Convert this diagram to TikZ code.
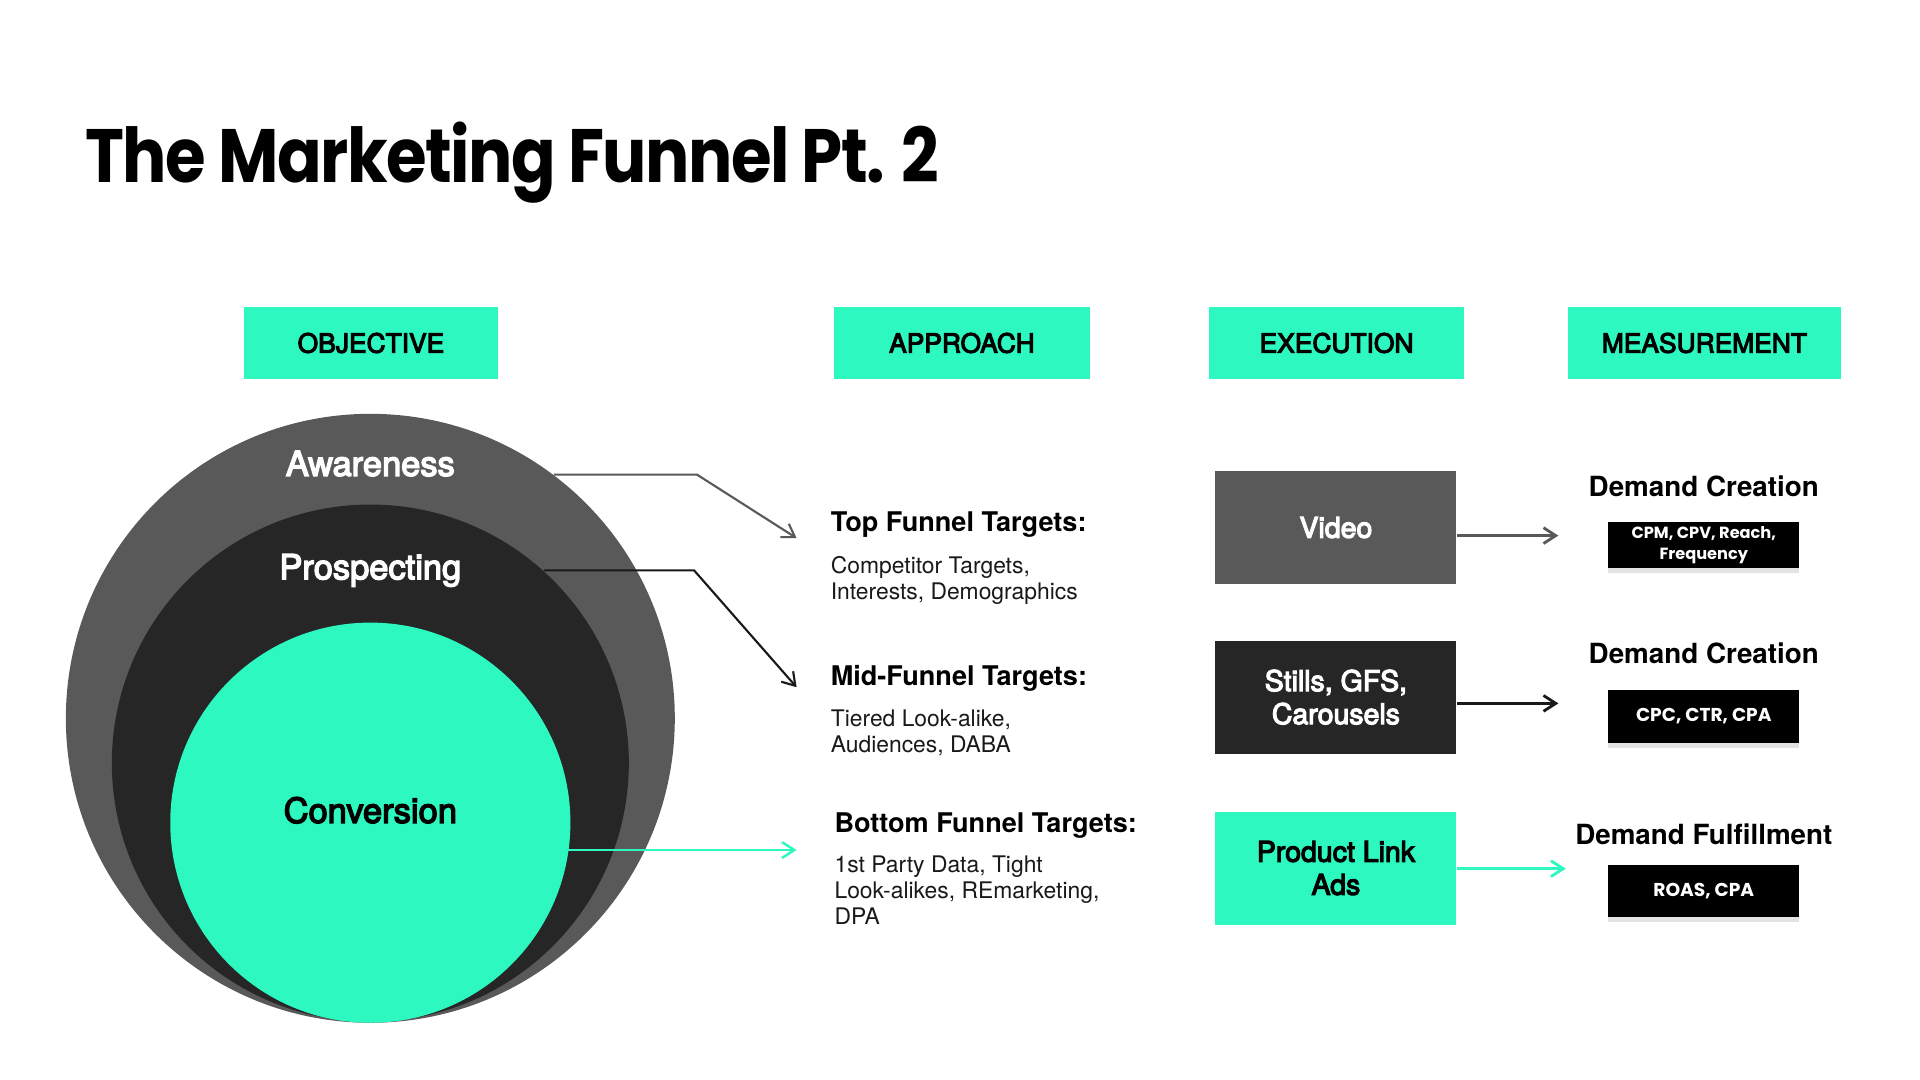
\documentclass[tikz,border=0pt]{standalone}
\usepackage{fontspec}
\setmainfont{TeX Gyre Heros}
\newfontfamily\titlefont{Poppins}[FakeStretch=0.87, LetterSpace=-2]
\newfontfamily\popfont{Poppins}
\newfontfamily\medfont{TeX Gyre Heros}[FakeBold=4]
\usetikzlibrary{positioning}
\usetikzlibrary{arrows.meta}
\usetikzlibrary{shadows}
\definecolor{mint}{HTML}{2DF8C0}
\definecolor{ringgray}{HTML}{595959}
\definecolor{ringdark}{HTML}{262626}
\newcommand\dpx{0.012427cm}
\tikzset{
    headbox/.style = {rectangle, fill=mint, minimum width=205*\dpx, minimum height=58*\dpx, font=\medfont\fontsize{7.5}{9}\selectfont},
    ring/.style = {circle, inner sep=0pt},
    ringtxt/.style = {font=\medfont\fontsize{9.8}{11}\selectfont},
    execbox/.style = {rectangle, minimum width=194*\dpx, minimum height=91*\dpx, align=center, font=\medfont\fontsize{8.1}{9.4}\selectfont},
    metbox/.style = {rectangle, fill=black, text=white, minimum width=154*\dpx, inner sep=0pt, align=center, font=\popfont\bfseries\fontsize{4.6}{6}\selectfont, drop shadow={shadow xshift=0pt, shadow yshift=-1.4pt, opacity=0.22}},
    metlabel/.style = {font=\bfseries\fontsize{7.9}{9.5}\selectfont},
    apptitle/.style = {anchor=base west, inner sep=0pt, font=\bfseries\fontsize{7.7}{9}\selectfont},
    appbody/.style = {anchor=north west, inner sep=0pt, align=left, text=black!90, font=\fontsize{6.5}{7.4}\selectfont},
}
\begin{document}
\begin{tikzpicture}[x=\dpx, y=-\dpx]
\tikzset{
    linkgray/.style = {-{Straight Barb[length=3.5pt,width=4.5pt]}, line width=0.6pt, ringgray},
    linkdark/.style = {-{Straight Barb[length=3.5pt,width=4.5pt]}, line width=0.6pt, black!90},
    linkmint/.style = {-{Straight Barb[length=3.5pt,width=4.5pt]}, line width=0.7pt, mint},
}
\useasboundingbox[fill=white] (0,0) rectangle (1545,869);
\node[anchor=base west, inner sep=0pt, font=\titlefont\bfseries\fontsize{21.5}{24}\selectfont] (title) at (68,147) {The Marketing Funnel Pt. 2};
% column heads
\node[headbox] (hobj) at (298.5,276) {OBJECTIVE};
\node[headbox, minimum width=206*\dpx] (happ) at (774,276) {APPROACH};
\node[headbox] (hexe) at (1075.5,276) {EXECUTION};
\node[headbox, minimum width=219*\dpx] (hmea) at (1371.5,276) {MEASUREMENT};
% funnel rings
\node[ring, fill=ringgray, minimum size=490*\dpx] (aware) at (298,578) {};
\node[ring, fill=ringdark, minimum size=416*\dpx] (prosp) at (298,614) {};
\node[ring, fill=mint, minimum size=322*\dpx] (conv) at (298,662) {};
\node[ringtxt, text=white] (awaretxt) at (298,373) {Awareness};
\node[ringtxt, text=white] (prosptxt) at (298,459) {Prospecting};
\node[ringtxt, text=black] (convtxt) at (298,652) {Conversion};
% approach
\node[apptitle] (toptitle) at (668,428) {Top Funnel Targets:};
\node[appbody] (topbody) at (668,447) {Competitor Targets,\\Interests, Demographics};
\node[apptitle] (midtitle) at (668,552) {Mid-Funnel Targets:};
\node[appbody] (midbody) at (668,571) {Tiered Look-alike,\\Audiences, DABA};
\node[apptitle] (bottitle) at (671,670) {Bottom Funnel Targets:};
\node[appbody] (botbody) at (671,688) {1st Party Data, Tight\\Look-alikes, REmarketing,\\DPA};
\coordinate (topin) at (641,433);
\coordinate (midin) at (641,553);
\coordinate (botin) at (641,684);
\coordinate (convout) at (388,684);
%
\draw[linkgray] (aware.53.6) -- ++(115,0) -- (topin);
\draw[linkdark] (prosp.48.1) -- ++(121,0) -- (midin);
\draw[linkmint] (convout) -- (botin);
% execution
\node[execbox, fill=ringgray, text=white] (video) at (1075,424.5) {Video};
\node[execbox, fill=ringdark, text=white] (stills) at (1075,561) {Stills, GFS,\\Carousels};
\node[execbox, fill=mint, text=black] (plink) at (1075,698.5) {Product Link\\Ads};
\coordinate (videoout) at (1254,431);
\coordinate (stillsout) at (1254,566);
\coordinate (plinkout) at (1260,699);
%
\draw[linkgray, line width=0.8pt] (video.east |- videoout) -- (videoout);
\draw[linkdark, line width=0.8pt] (stills.east |- stillsout) -- (stillsout);
\draw[linkmint, line width=0.8pt] (plink.east |- plinkout) -- (plinkout);
% measurement
\node[metlabel] (dc1) at (1371,391) {Demand Creation};
\node[metbox, minimum height=37*\dpx] (m1) at (1371,438.5) {CPM, CPV, Reach,\\Frequency};
\node[metlabel] (dc2) at (1371,526) {Demand Creation};
\node[metbox, minimum height=43*\dpx, font=\popfont\bfseries\fontsize{5.3}{7}\selectfont] (m2) at (1371,576.5) {CPC, CTR, CPA};
\node[metlabel] (df) at (1371,671) {Demand Fulfillment};
\node[metbox, minimum height=42*\dpx, font=\popfont\bfseries\fontsize{5.3}{7}\selectfont] (m3) at (1371,717) {ROAS, CPA};
\end{tikzpicture}
\end{document}
